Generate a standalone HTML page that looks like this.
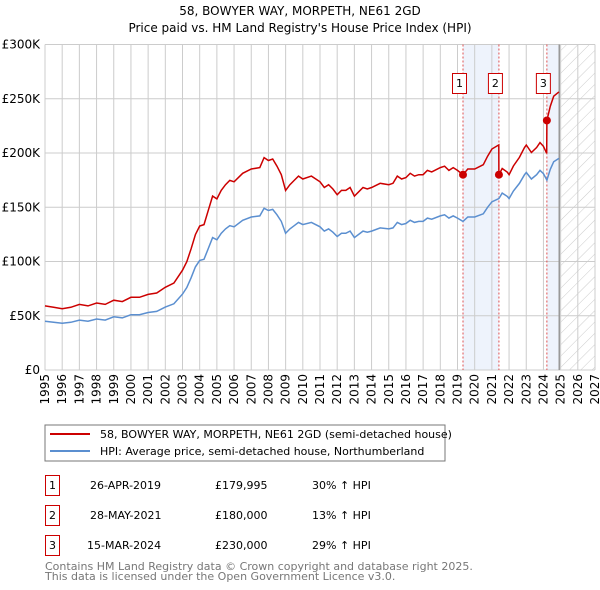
<!DOCTYPE html>
<html><head><meta charset="utf-8"><style>
body{margin:0;background:#fff;}
svg{display:block;font-family:"DejaVu Sans","Liberation Sans",sans-serif;}
</style></head><body>
<svg id="chart" width="600" height="590" viewBox="0 0 600 590">
<text x="300" y="15" text-anchor="middle" font-size="12">58, BOWYER WAY, MORPETH, NE61 2GD</text>
<text x="300" y="32" text-anchor="middle" font-size="12">Price paid vs. HM Land Registry's House Price Index (HPI)</text>
<defs><pattern id="hatch" width="8" height="8" patternUnits="userSpaceOnUse" patternTransform="rotate(45)"><line x1="0" y1="0" x2="0" y2="8" stroke="#ccc" stroke-width="1"/></pattern></defs>
<g id="plot"></g>
<rect x="45" y="425" width="400" height="36" fill="#fff" stroke="#777"/>
<line x1="50" y1="434" x2="90" y2="434" stroke="#cc0000" stroke-width="2"/>
<text x="100" y="438" font-size="11">58, BOWYER WAY, MORPETH, NE61 2GD (semi-detached house)</text>
<line x1="50" y1="451" x2="90" y2="451" stroke="#5b8fd0" stroke-width="2"/>
<text x="100" y="455" font-size="11">HPI: Average price, semi-detached house, Northumberland</text>
<g font-size="11">
<rect x="45.5" y="475.5" width="14" height="20" fill="none" stroke="#cc0000"/><text x="52.5" y="489" text-anchor="middle">1</text>
<text x="90" y="489">26-APR-2019</text><text x="215" y="489">£179,995</text><text x="312" y="489">30% ↑ HPI</text>
<rect x="45.5" y="505.5" width="14" height="20" fill="none" stroke="#cc0000"/><text x="52.5" y="519" text-anchor="middle">2</text>
<text x="90" y="519">28-MAY-2021</text><text x="215" y="519">£180,000</text><text x="312" y="519">13% ↑ HPI</text>
<rect x="45.5" y="535.5" width="14" height="20" fill="none" stroke="#cc0000"/><text x="52.5" y="549" text-anchor="middle">3</text>
<text x="87" y="549">15-MAR-2024</text><text x="215" y="549">£230,000</text><text x="312" y="549">29% ↑ HPI</text>
</g>
<text x="45" y="570" font-size="11" fill="#777">Contains HM Land Registry data © Crown copyright and database right 2025.</text>
<text x="45" y="580" font-size="11" fill="#777">This data is licensed under the Open Government Licence v3.0.</text>
</svg>
<script>
const hpiYears=[1995,1995.5,1996,1996.5,1997,1997.5,1998,1998.5,1999,1999.5,2000,2000.5,2001,2001.5,2002,2002.5,2003,2003.25,2003.5,2003.75,2004,2004.25,2004.5,2004.75,2005,2005.25,2005.5,2005.75,2006,2006.5,2007,2007.5,2007.75,2008,2008.25,2008.5,2008.75,2009,2009.25,2009.5,2009.75,2010,2010.5,2011,2011.25,2011.5,2011.75,2012,2012.25,2012.5,2012.75,2013,2013.25,2013.5,2013.75,2014,2014.5,2015,2015.25,2015.5,2015.75,2016,2016.25,2016.5,2016.75,2017,2017.25,2017.5,2018,2018.25,2018.5,2018.75,2019,2019.32,2019.6,2020,2020.5,2020.75,2021,2021.41,2021.6,2021.9,2022,2022.25,2022.6,2022.9,2023,2023.3,2023.6,2023.8,2024,2024.2,2024.4,2024.6,2024.9];
const hpiValues=[45,44,43,44,46,45,47,46,49,48,51,51,53,54,58,61,70,76,85,95,101,102,112,122,120,126,130,133,132,138,141,142,149,147,148,143,137,126,130,133,136,134,136,132,128,130,127,123,126,126,128,122,125,128,127,128,131,130,131,136,134,135,138,136,137,137,140,139,142,143,140,142,140,137,141,141,144,150,155,158,163,160,158,165,172,180,182,176,180,184,181,175,185,192,195];
const saleYears=[2019.32,2021.41,2024.2];
const salePrices=[179.995,180,230];
const saleLabels=["1","2","3"];
const yTicks=[0,50,100,150,200,250,300];
const yTickLabels=["£0","£50K","£100K","£150K","£200K","£250K","£300K"];
const xTicks=[1995,1996,1997,1998,1999,2000,2001,2002,2003,2004,2005,2006,2007,2008,2009,2010,2011,2012,2013,2014,2015,2016,2017,2018,2019,2020,2021,2022,2023,2024,2025,2026,2027];

const X0=45,X1=595,Y0=370,Y1=44.5,xmin=1995,xmax=2027,ymax=300,dataEnd=2024.92;
const xs=v=>X0+(v-xmin)/(xmax-xmin)*(X1-X0);
const ys=v=>Y0-v/ymax*(Y0-Y1);
const NS="http://www.w3.org/2000/svg";
const g=document.getElementById('plot');
function mk(t,a){const e=document.createElementNS(NS,t);for(const k in a)e.setAttribute(k,a[k]);g.appendChild(e);return e;}
function hpiAt(t){for(let i=1;i<hpiYears.length;i++){if(t<=hpiYears[i]){const f=(t-hpiYears[i-1])/(hpiYears[i]-hpiYears[i-1]);return hpiValues[i-1]+f*(hpiValues[i]-hpiValues[i-1]);}}return hpiValues[hpiValues.length-1];}
let r=mk('rect',{x:xs(saleYears[0]),y:Y1,width:xs(saleYears[1])-xs(saleYears[0]),height:Y0-Y1,fill:'#eef3fc'});


r=mk('rect',{x:xs(saleYears[2]),y:Y1,width:xs(dataEnd)-xs(saleYears[2]),height:Y0-Y1,fill:'#eef3fc'});


r=mk('rect',{x:xs(dataEnd),y:Y1,width:X1-xs(dataEnd),height:Y0-Y1,fill:'url(#hatch)'});


xTicks.forEach(t=>{const l=mk('line',{x1:xs(t),x2:xs(t),y1:Y1,y2:Y0,stroke:'#ccc','stroke-width':1});


const tx=mk('text',{x:0,y:0,'font-size':12,'text-anchor':'end',transform:`translate(${xs(t)+4},${Y0+4}) rotate(-90)`});tx.textContent=t;

});
yTicks.forEach((t,i)=>{const l=mk('line',{x1:X0,x2:X1,y1:ys(t),y2:ys(t),stroke:'#ccc','stroke-width':1});


const tx=mk('text',{x:X0-5,y:ys(t)+4,'font-size':12,'text-anchor':'end'});tx.textContent=yTickLabels[i];

});
let el=mk('line',{x1:xs(dataEnd),x2:xs(dataEnd),y1:Y1,y2:Y0,stroke:'#999','stroke-width':1.5});


saleYears.forEach((s,i)=>{const l=mk('line',{x1:xs(s),x2:xs(s),y1:Y1,y2:Y0,stroke:'#e05050','stroke-width':1,'stroke-dasharray':'2,2'});

});
const hp=hpiYears.map((t,i)=>xs(t).toFixed(1)+','+ys(hpiValues[i]).toFixed(1)).join(' ');
el=mk('polyline',{points:hp,fill:'none',stroke:'#5b8fd0','stroke-width':1.5});


const ratios=saleYears.map((s,i)=>salePrices[i]/hpiAt(s));
function redAt(t){let k=0;for(let i=0;i<saleYears.length;i++)if(t>=saleYears[i])k=i;return hpiAt(t)*ratios[k];}
const pts=[];
const times=hpiYears.concat(saleYears).concat(saleYears.map(s=>s-0.01)).sort((a,b)=>a-b);
times.forEach(t=>pts.push(xs(t).toFixed(1)+','+ys(redAt(t)).toFixed(1)));
el=mk('polyline',{points:pts.join(' '),fill:'none',stroke:'#cc0000','stroke-width':1.5});


saleYears.forEach((s,i)=>{const c=mk('circle',{cx:xs(s),cy:ys(salePrices[i]),r:4,fill:'#cc0000'});


const b=mk('rect',{x:xs(s)-10.5,y:73.5,width:14,height:20,fill:'#fff',stroke:'#cc0000'});


const tx=mk('text',{x:xs(s)-3.5,y:87,'font-size':11,'text-anchor':'middle'});tx.textContent=saleLabels[i];

});
</script>
</body></html>
